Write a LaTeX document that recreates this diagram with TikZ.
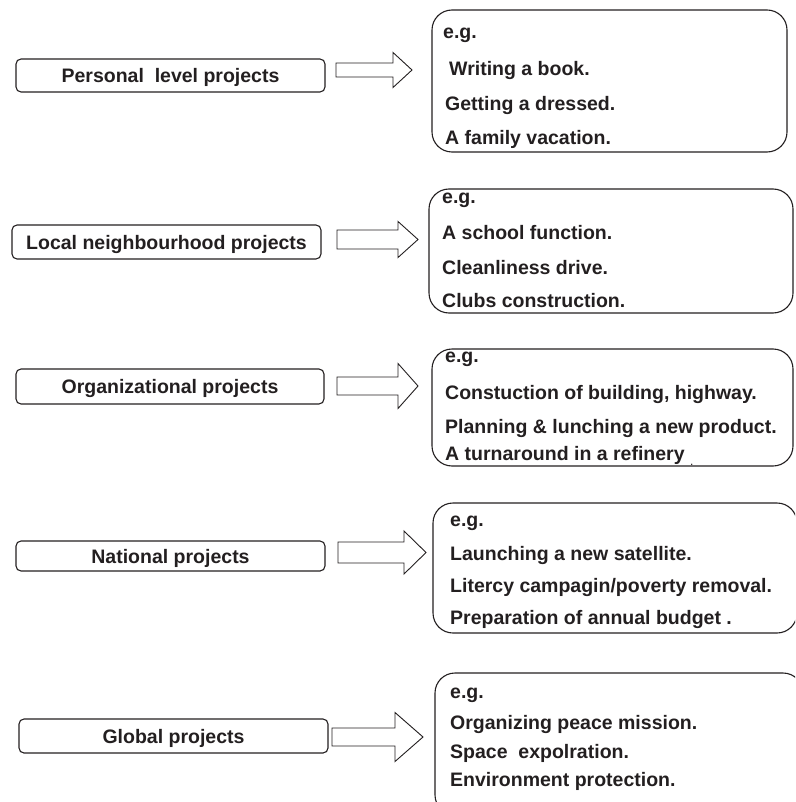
\documentclass[tikz,border=0pt]{standalone}
\usepackage{fontspec}
\setmainfont{Liberation Sans}
\definecolor{ink}{HTML}{231F20}
\tikzset{
  lbox/.style={draw=ink, line width=1.1pt, rounded corners=5pt, inner sep=0pt,
    minimum height=33pt, text=ink, font=\bfseries\fontsize{19.5}{23}\selectfont,
    text height=16pt, text depth=2pt},
  rbox/.style={draw=ink, line width=1.1pt, rounded corners=20pt, inner sep=0pt},
  item/.style={anchor=base west, inner sep=0pt, text=ink, font=\bfseries\fontsize{19.5}{23}\selectfont},
  barrow/.style={draw=ink, line width=0.9pt, fill=white, line join=miter}
}
\newcommand{\blockarrow}[6]{% x0, xb, xt, yc, half shaft, half head
  \draw[barrow] (#1,#4-#5) -- (#2,#4-#5) -- (#2,#4-#6) -- (#3,#4) -- (#2,#4+#6)
    -- (#2,#4+#5) -- (#1,#4+#5) -- cycle;}
\begin{document}
\begin{tikzpicture}[x=1pt,y=-1pt]
\useasboundingbox (0,0) rectangle (795,802);
\clip (0,0) rectangle (795,802);

% left boxes
\node[lbox, minimum width=309pt] (l1) at (170.5,75.5) {Personal\ \ level projects};
\node[lbox, minimum width=309pt, minimum height=34pt] (l2) at (166.5,242) {Local neighbourhood projects};
\node[lbox, minimum width=308pt, minimum height=35pt] (l3) at (170,386.5) {Organizational projects};
\node[lbox, minimum width=309pt, minimum height=30pt] (l4) at (170.5,556) {National projects};
\node[lbox, minimum width=309pt, minimum height=34pt] (l5) at (173.5,736) {Global projects};

% block arrows
\blockarrow{336}{393}{412}{70}{7}{17.5}
\blockarrow{337}{398}{418}{239.5}{9.5}{18}
\blockarrow{337}{398}{418}{386}{9}{22.5}
\blockarrow{338}{404}{426}{552.5}{10.5}{21.5}
\blockarrow{332}{395}{423}{737}{9}{24.5}

% right boxes
\node[rbox, minimum width=355pt, minimum height=142pt] (r1) at (609.5,81) {};
\node[rbox, minimum width=364pt, minimum height=124pt] (r2) at (611,251) {};
\node[rbox, minimum width=361pt, minimum height=117pt] (r3) at (612.5,407.5) {};
\node[rbox, minimum width=364pt, minimum height=130pt] (r4) at (615,568) {};
\node[rbox, minimum width=368pt, minimum height=142pt] (r5) at (619,744) {};

% texts box 1
\node[item] (t11) at (443,39) {e.g.};
\node[item] (t12) at (449,76) {Writing a book.};
\node[item] (t13) at (445,111) {Getting a dressed.};
\node[item] (t14) at (445,145) {A family vacation.};
% box 2
\node[item] (t21) at (442,204) {e.g.};
\node[item] (t22) at (442,239) {A school function.};
\node[item] (t23) at (442,274) {Cleanliness drive.};
\node[item] (t24) at (442,307) {Clubs construction.};
% box 3
\node[item] (t31) at (445,362) {e.g.};
\node[item] (t32) at (445,399) {Constuction of building, highway.};
\node[item] (t33) at (445,433) {Planning \& lunching a new product.};
\node[item] (t34) at (445,460) {A turnaround in a refinery};
\node[item, font=\fontsize{12}{14}\selectfont] (t35) at (690,465) {.};
% box 4
\node[item] (t41) at (450,526) {e.g.};
\node[item] (t42) at (450,560) {Launching a new satellite.};
\node[item] (t43) at (450,592) {Litercy campagin/poverty removal.};
\node[item] (t44) at (450,624) {Preparation of annual budget .};
% box 5
\node[item] (t51) at (450,698) {e.g.};
\node[item] (t52) at (450,729) {Organizing peace mission.};
\node[item] (t53) at (450,758) {Space\ \ expolration.};
\node[item] (t54) at (450,786) {Environment protection.};
\end{tikzpicture}
\end{document}
